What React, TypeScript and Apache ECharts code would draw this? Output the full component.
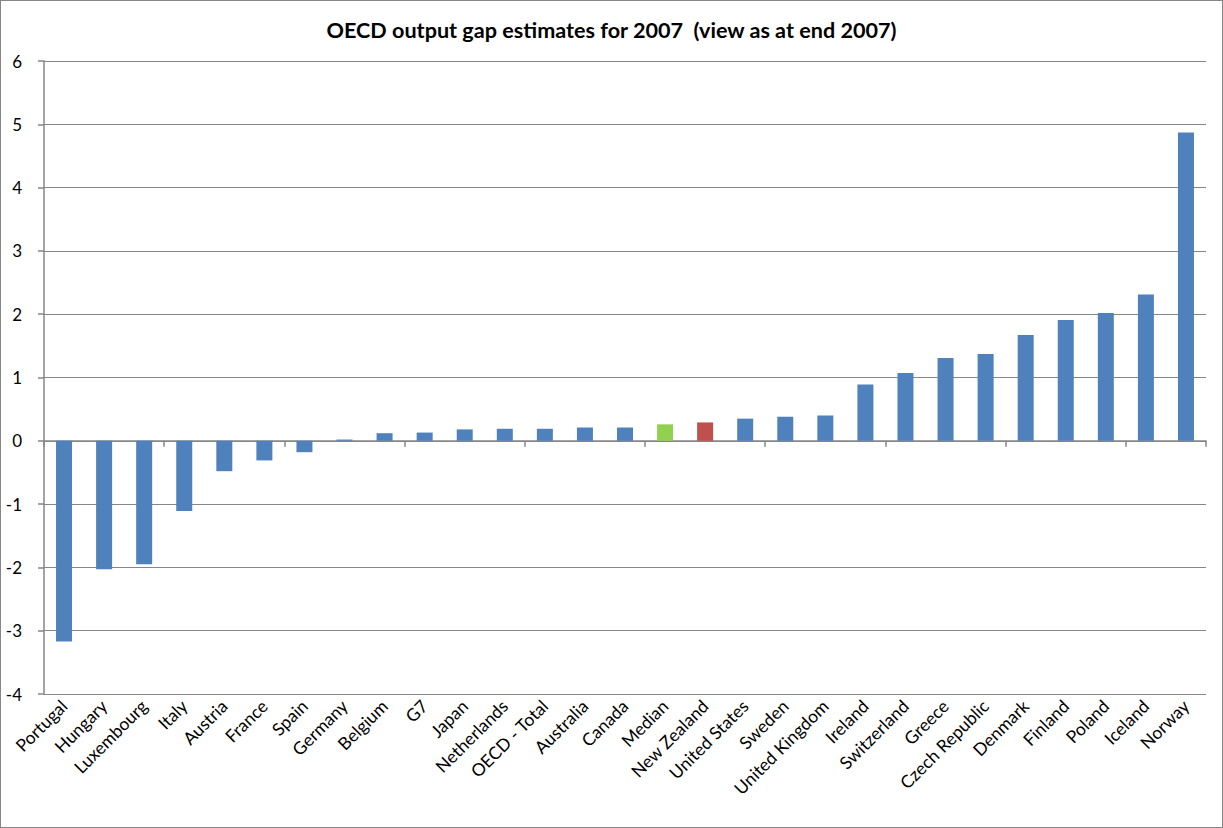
import React, { useEffect, useRef } from "react";
import * as echarts from "echarts";

const countries = [
  "Portugal", "Hungary", "Luxembourg", "Italy", "Austria", "France", "Spain",
  "Germany", "Belgium", "G7", "Japan", "Netherlands", "OECD - Total", "Australia",
  "Canada", "Median", "New Zealand", "United States", "Sweden", "United Kingdom",
  "Ireland", "Switzerland", "Greece", "Czech Republic", "Denmark", "Finland",
  "Poland", "Iceland", "Norway",
];

const outputGap = [
  -3.17, -2.03, -1.95, -1.11, -0.48, -0.31, -0.18,
  0.02, 0.12, 0.13, 0.18, 0.19, 0.19, 0.21,
  0.21, 0.26, 0.29, 0.35, 0.38, 0.40,
  0.89, 1.07, 1.31, 1.37, 1.67, 1.91,
  2.02, 2.31, 4.87,
];

const highlightColors: Record<string, string> = {
  Median: "#92D050",
  "New Zealand": "#C0504D",
};
const baseColor = "#4F81BD";

const yTicks = { min: -4, max: 6, interval: 1 };
const titleText = "OECD output gap estimates for 2007  (view as at end 2007)";

export default function App() {
  const ref = useRef<HTMLDivElement>(null);

  useEffect(() => {
    document.body.style.margin = "0";
    if (!ref.current) return;
    const chart = echarts.init(ref.current, null, { renderer: "svg" });
    const font = "Lato, 'Open Sans', sans-serif";
    chart.setOption({
      animation: false,
      backgroundColor: "#ffffff",
      title: {
        text: titleText,
        left: "center",
        top: 13,
        textStyle: { fontFamily: font, fontWeight: "bold", fontSize: 21.6, color: "#000" },
      },
      grid: { left: 43, right: 16, top: 60, bottom: 133, containLabel: false },
      xAxis: [
        {
          type: "category",
          data: countries,
          position: "bottom",
          axisLine: { show: false, onZero: false },
          axisTick: { show: false },
          axisLabel: {
            rotate: 45,
            interval: 0,
            margin: 9,
            fontFamily: font,
            fontSize: 17.5,
            color: "#000",
          },
        },
        {
          type: "category",
          data: countries,
          position: "bottom",
          axisLine: { show: true, onZero: true, lineStyle: { color: "#868686", width: 1.5 } },
          axisTick: { show: true, length: 6, lineStyle: { color: "#868686", width: 1.5 } },
          axisLabel: { show: false },
        },
      ],
      yAxis: {
        type: "value",
        min: yTicks.min,
        max: yTicks.max,
        interval: yTicks.interval,
        axisLine: { show: true, lineStyle: { color: "#868686", width: 1.5 } },
        axisTick: { show: true, length: 6, lineStyle: { color: "#868686", width: 1.5 } },
        axisLabel: { margin: 22, fontFamily: font, fontSize: 17, color: "#000" },
        splitLine: { show: true, lineStyle: { color: "#868686", width: 1 } },
      },
      series: [
        {
          type: "bar",
          xAxisIndex: 0,
          barWidth: 16,
          data: outputGap.map((v, i) => ({
            value: v,
            itemStyle: { color: highlightColors[countries[i]] || baseColor },
          })),
        },
      ],
    });
    return () => chart.dispose();
  }, []);

  return (
    <div
      style={{
        width: 1223,
        height: 828,
        boxSizing: "border-box",
        border: "1px solid #868686",
        position: "relative",
      }}
    >
      <div ref={ref} style={{ width: 1221, height: 826 }} />
    </div>
  );
}
